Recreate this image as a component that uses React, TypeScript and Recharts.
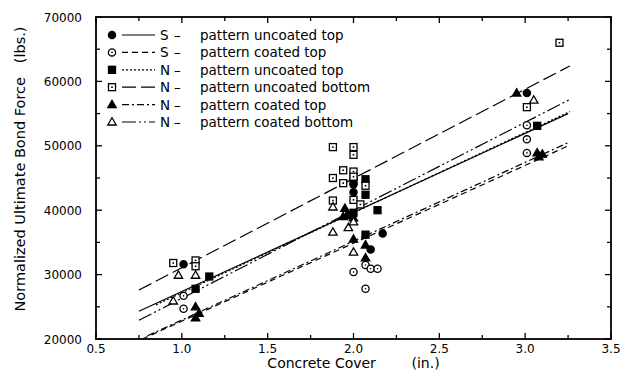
import React from 'react';
import { ScatterChart, Scatter, XAxis, YAxis, Legend } from 'recharts';

const FONT = '"DejaVu Sans", Verdana, sans-serif';

// axis ticks (labels only on the major ones)
const xTicks = [0.5, 0.75, 1.0, 1.25, 1.5, 1.75, 2.0, 2.25, 2.5, 2.75, 3.0, 3.25, 3.5];
const yTicks = [20000, 25000, 30000, 35000, 40000, 45000, 50000, 55000, 60000, 65000, 70000];

// measured points (cover in., force lbs.)
const sUncoatedTop = [
  { x: 1.01, y: 31600 },
  { x: 1.97, y: 39200 },
  { x: 2.0, y: 44000 },
  { x: 2.0, y: 42800 },
  { x: 2.1, y: 33900 },
  { x: 2.17, y: 36400 },
  { x: 3.01, y: 58200 },
];
const sCoatedTop = [
  { x: 1.01, y: 26700 },
  { x: 1.01, y: 24700 },
  { x: 2.0, y: 30400 },
  { x: 2.07, y: 31500 },
  { x: 2.1, y: 30900 },
  { x: 2.14, y: 30900 },
  { x: 2.07, y: 27800 },
  { x: 3.01, y: 53200 },
  { x: 3.01, y: 51000 },
  { x: 3.01, y: 48900 },
];
const nUncoatedTop = [
  { x: 1.08, y: 27800 },
  { x: 1.16, y: 29700 },
  { x: 2.0, y: 44600 },
  { x: 2.07, y: 44800 },
  { x: 2.07, y: 42400 },
  { x: 2.14, y: 40000 },
  { x: 2.07, y: 36200 },
  { x: 2.0, y: 39600 },
  { x: 3.07, y: 53100 },
];
const nUncoatedBottom = [
  { x: 0.95, y: 31800 },
  { x: 1.08, y: 32200 },
  { x: 1.08, y: 31300 },
  { x: 1.88, y: 49800 },
  { x: 2.0, y: 49800 },
  { x: 2.0, y: 48600 },
  { x: 1.94, y: 46200 },
  { x: 2.0, y: 46000 },
  { x: 1.88, y: 45000 },
  { x: 1.94, y: 44200 },
  { x: 2.0, y: 45200 },
  { x: 2.07, y: 43800 },
  { x: 1.88, y: 41500 },
  { x: 2.0, y: 41600 },
  { x: 2.04, y: 40900 },
  { x: 3.01, y: 56000 },
  { x: 3.2, y: 66000 },
];
const nCoatedTop = [
  { x: 1.08, y: 25000 },
  { x: 1.1, y: 24000 },
  { x: 1.08, y: 23300 },
  { x: 1.95, y: 40300 },
  { x: 1.94, y: 39000 },
  { x: 2.0, y: 38800 },
  { x: 2.0, y: 35500 },
  { x: 2.07, y: 34600 },
  { x: 2.07, y: 32600 },
  { x: 2.95, y: 58200 },
  { x: 3.07, y: 48900 },
  { x: 3.08, y: 48300 },
  { x: 3.1, y: 48700 },
];
const nCoatedBottom = [
  { x: 0.98, y: 29900 },
  { x: 0.95, y: 25900 },
  { x: 1.08, y: 29900 },
  { x: 1.88, y: 40500 },
  { x: 1.88, y: 36600 },
  { x: 1.97, y: 37300 },
  { x: 2.0, y: 38200 },
  { x: 2.0, y: 33500 },
  { x: 3.05, y: 57100 },
];

// fitted lines (end points)
const fitSUncoatedTop = [{ x: 0.75, y: 24300 }, { x: 3.25, y: 55000 }];
const fitSCoatedTop = [{ x: 0.77, y: 20000 }, { x: 3.26, y: 50100 }];
const fitNUncoatedTop = [{ x: 0.85, y: 25300 }, { x: 3.26, y: 55300 }];
const fitNUncoatedBottom = [{ x: 0.75, y: 27600 }, { x: 3.26, y: 62400 }];
const fitNCoatedTop = [{ x: 0.8, y: 20500 }, { x: 3.26, y: 50600 }];
const fitNCoatedBottom = [{ x: 0.75, y: 22900 }, { x: 3.26, y: 57200 }];

// layout of the chart
const W = 624;
const H = 386;
const MARGIN = { top: 17, right: 13, bottom: 0, left: 0 };
const Y_AXIS_W = 96;
const X_AXIS_H = 47;
const PLOT = {
  left: MARGIN.left + Y_AXIS_W,
  top: MARGIN.top,
  width: W - MARGIN.left - Y_AXIS_W - MARGIN.right,
  height: H - MARGIN.top - MARGIN.bottom - X_AXIS_H,
};
const X_DOMAIN = [0.5, 3.5];
const Y_DOMAIN = [20000, 70000];
const sx = (v: number) => PLOT.left + ((v - X_DOMAIN[0]) / (X_DOMAIN[1] - X_DOMAIN[0])) * PLOT.width;
const sy = (v: number) => PLOT.top + ((Y_DOMAIN[1] - v) / (Y_DOMAIN[1] - Y_DOMAIN[0])) * PLOT.height;

type Kind = 'circle' | 'square' | 'triangle';

const Marker = ({ cx, cy, kind, open }: { cx: number; cy: number; kind: Kind; open: boolean }) => {
  if (cx == null || cy == null) return <g />;
  const fill = open ? '#fff' : '#000';
  const sw = 1.3;
  if (kind === 'circle') {
    return (
      <g>
        <circle cx={cx} cy={cy} r={3.6} fill={fill} stroke="#000" strokeWidth={sw} />
        {open && <circle cx={cx} cy={cy} r={0.8} fill="#000" />}
      </g>
    );
  }
  if (kind === 'square') {
    return (
      <g>
        <rect x={cx - 3.5} y={cy - 3.5} width={7} height={7} fill={fill} stroke="#000" strokeWidth={sw} />
        {open && <rect x={cx - 0.8} y={cy - 0.8} width={1.6} height={1.6} fill="#000" />}
      </g>
    );
  }
  return (
    <polygon
      points={`${cx},${cy - 4.3} ${cx + 4.2},${cy + 3} ${cx - 4.2},${cy + 3}`}
      fill={fill}
      stroke="#000"
      strokeWidth={sw}
    />
  );
};

const series = [
  { label: 'S', rest: 'pattern uncoated top', data: sUncoatedTop, fit: fitSUncoatedTop, kind: 'circle' as Kind, open: false, dash: undefined },
  { label: 'S', rest: 'pattern coated top', data: sCoatedTop, fit: fitSCoatedTop, kind: 'circle' as Kind, open: true, dash: '6 4' },
  { label: 'N', rest: 'pattern uncoated top', data: nUncoatedTop, fit: fitNUncoatedTop, kind: 'square' as Kind, open: false, dash: '2 2' },
  { label: 'N', rest: 'pattern uncoated bottom', data: nUncoatedBottom, fit: fitNUncoatedBottom, kind: 'square' as Kind, open: true, dash: '14 5' },
  { label: 'N', rest: 'pattern coated top', data: nCoatedTop, fit: fitNCoatedTop, kind: 'triangle' as Kind, open: false, dash: '7 3 2 3' },
  { label: 'N', rest: 'pattern coated bottom', data: nCoatedBottom, fit: fitNCoatedBottom, kind: 'triangle' as Kind, open: true, dash: '14 3 2 3 2 3' },
];

const isMajorX = (v: number) => Math.abs(v * 2 - Math.round(v * 2)) < 1e-6;
const isMajorY = (v: number) => v % 10000 === 0;

// overlay: plot frame with inward ticks, and the legend box
const Overlay = () => (
  <svg width={W} height={H} style={{ display: 'block', overflow: 'visible' }}>
    <rect x={PLOT.left} y={PLOT.top} width={PLOT.width} height={PLOT.height} fill="none" stroke="#000" strokeWidth={1.8} />
    {xTicks.map((v) => {
      const len = isMajorX(v) ? 6 : 4;
      const x = sx(v);
      return (
        <g key={`xt-${v}`} stroke="#000" strokeWidth={1.3}>
          <line x1={x} y1={PLOT.top + PLOT.height} x2={x} y2={PLOT.top + PLOT.height - len} />
          <line x1={x} y1={PLOT.top} x2={x} y2={PLOT.top + len} />
        </g>
      );
    })}
    {yTicks.map((v) => {
      const len = isMajorY(v) ? 6 : 4;
      const y = sy(v);
      return (
        <g key={`yt-${v}`} stroke="#000" strokeWidth={1.3}>
          <line x1={PLOT.left} y1={y} x2={PLOT.left + len} y2={y} />
          <line x1={PLOT.left + PLOT.width} y1={y} x2={PLOT.left + PLOT.width - len} y2={y} />
        </g>
      );
    })}
    {series.map((s, i) => {
      const y = 35 + i * 17.4;
      return (
        <g key={i} fontFamily={FONT} fontSize={13.5} fill="#000">
          <Marker cx={112} cy={y} kind={s.kind} open={s.open} />
          <line x1={122} y1={y} x2={155} y2={y} stroke="#000" strokeWidth={1.2} strokeDasharray={s.dash} />
          <text x={160} y={y + 5}>{s.label}</text>
          <text x={174} y={y + 5}>–</text>
          <text x={200} y={y + 5}>{s.rest}</text>
        </g>
      );
    })}
  </svg>
);

const BottomTick = (p: any) => {
  const v = p.payload.value;
  if (!isMajorX(v)) return <g />;
  return (
    <text x={p.x} y={p.y + 6} textAnchor="middle" fontFamily={FONT} fontSize={12} fill="#000" stroke="none">
      {v.toFixed(1)}
    </text>
  );
};
const LeftTick = (p: any) => {
  const v = p.payload.value;
  if (!isMajorY(v)) return <g />;
  return (
    <text x={p.x} y={p.y + 4.5} textAnchor="end" fontFamily={FONT} fontSize={12} fill="#000" stroke="none">
      {String(v)}
    </text>
  );
};

export default function App() {
  return (
    <div style={{ position: 'absolute', left: 0, top: 0, background: '#fff' }}>
      <ScatterChart width={W} height={H} margin={MARGIN}>
        <XAxis
          xAxisId="b"
          type="number"
          dataKey="x"
          domain={X_DOMAIN}
          allowDataOverflow
          ticks={xTicks}
          interval={0}
          height={X_AXIS_H}
          axisLine={false}
          tickLine={false}
          tickSize={0}
          tickMargin={8}
          tick={BottomTick}
          label={{
            content: (p: any) => {
              const vb = p.viewBox || { x: PLOT.left, y: PLOT.top + PLOT.height, width: PLOT.width };
              return (
                <text x={vb.x + vb.width / 2} y={vb.y + 29} textAnchor="middle" fontFamily={FONT} fontSize={14} fill="#000">
                  {'Concrete Cover\u00A0\u00A0\u00A0\u00A0\u00A0\u00A0\u00A0\u00A0(in.)'}
                </text>
              );
            },
          }}
        />
        <YAxis
          yAxisId="l"
          type="number"
          dataKey="y"
          domain={Y_DOMAIN}
          allowDataOverflow
          ticks={yTicks}
          interval={0}
          width={Y_AXIS_W}
          axisLine={false}
          tickLine={false}
          tickSize={0}
          tickMargin={14}
          tick={LeftTick}
          label={{
            content: (p: any) => {
              const vb = p.viewBox || { x: 0, y: PLOT.top, height: PLOT.height };
              const cy = vb.y + vb.height / 2 - 9;
              return (
                <text x={20} y={cy} transform={`rotate(-90, 20, ${cy})`} textAnchor="middle" dominantBaseline="central"
                  fontFamily={FONT} fontSize={14.5} fill="#000">
                  {'Normalized Ultimate Bond Force\u00A0\u00A0\u00A0(lbs.)'}
                </text>
              );
            },
          }}
        />

        {series.map((s, i) => (
          <Scatter
            key={`fit-${i}`}
            xAxisId="b"
            yAxisId="l"
            data={s.fit}
            line={{ stroke: '#000', strokeWidth: 1.2, strokeDasharray: s.dash }}
            shape={() => <g />}
            legendType="none"
            isAnimationActive={false}
          />
        ))}
        {series.map((s, i) => (
          <Scatter
            key={`pts-${i}`}
            xAxisId="b"
            yAxisId="l"
            data={s.data}
            shape={(p: any) => <Marker cx={p.cx} cy={p.cy} kind={s.kind} open={s.open} />}
            isAnimationActive={false}
          />
        ))}
        <Legend
          layout="vertical"
          align="center"
          verticalAlign="middle"
          wrapperStyle={{ left: 0, top: 0, width: W, height: H, pointerEvents: 'none' }}
          content={() => <Overlay />}
        />
      </ScatterChart>
    </div>
  );
}
